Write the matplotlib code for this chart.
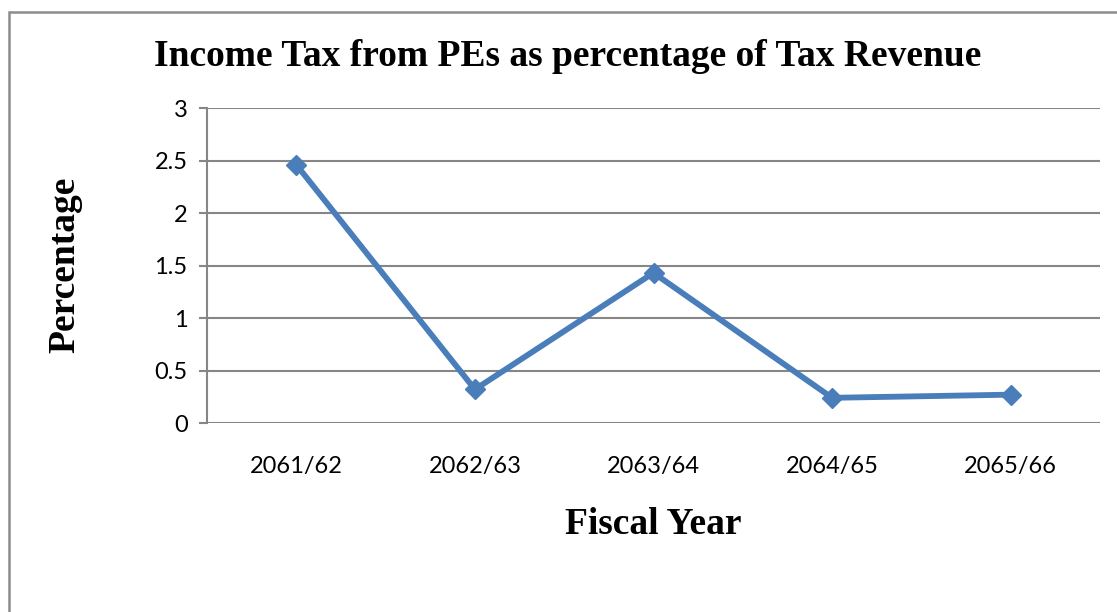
import matplotlib.pyplot as plt
from matplotlib.patches import Rectangle

years = ["2061/62", "2062/63", "2063/64", "2064/65", "2065/66"]
pct = [2.46, 0.32, 1.43, 0.24, 0.27]
yticks = [0, 0.5, 1, 1.5, 2, 2.5, 3]
ytick_labels = ["0", "0.5", "1", "1.5", "2", "2.5", "3"]

grid_col = "#868686"
line_col = "#4A7EBB"

fig = plt.figure(figsize=(11.17, 6.12), dpi=100)
fig.patches.append(Rectangle((9 / 1117, -0.1), 1.2, 1 - 12 / 612 + 0.1,
                             transform=fig.transFigure, fill=False,
                             edgecolor="#8c8c8c", linewidth=1.8))

ax = fig.add_axes([0.1853, 0.3088, 0.7995, 0.5147])
x = [i + 0.5 for i in range(len(years))]
ax.plot(x, pct, color=line_col, linewidth=4.2, marker="D", markersize=10.5,
        markeredgecolor=line_col, markerfacecolor=line_col, zorder=3)

ax.set_xlim(0, len(years))
ax.set_ylim(0, 3)
ax.set_yticks(yticks)
ax.set_yticklabels(ytick_labels)
ax.set_xticks(x)
ax.set_xticklabels(years)
ax.yaxis.grid(True, color=grid_col, linewidth=1.5)
ax.set_axisbelow(True)
for s in ["top", "right", "bottom"]:
    ax.spines[s].set_visible(False)
ax.spines["left"].set_color(grid_col)
ax.spines["left"].set_linewidth(1.5)
ax.tick_params(axis="y", length=6, width=1.5, color=grid_col, pad=8,
               labelsize=17)
ax.tick_params(axis="x", length=0, pad=24, labelsize=17)
for lab in ax.get_xticklabels() + ax.get_yticklabels():
    lab.set_fontfamily("Lato")

fig.text(0.508, 0.907, "Income Tax from PEs as percentage of Tax Revenue",
         ha="center", va="center", fontsize=27, fontweight="bold",
         fontfamily="Liberation Serif")
fig.text(0.058, 0.567, "Percentage", rotation=90, ha="center", va="center",
         fontsize=27, fontweight="bold", fontfamily="Liberation Serif")
fig.text(0.585, 0.143, "Fiscal Year", ha="center", va="center",
         fontsize=27, fontweight="bold", fontfamily="Liberation Serif")

fig.savefig("out.png", dpi=100)
